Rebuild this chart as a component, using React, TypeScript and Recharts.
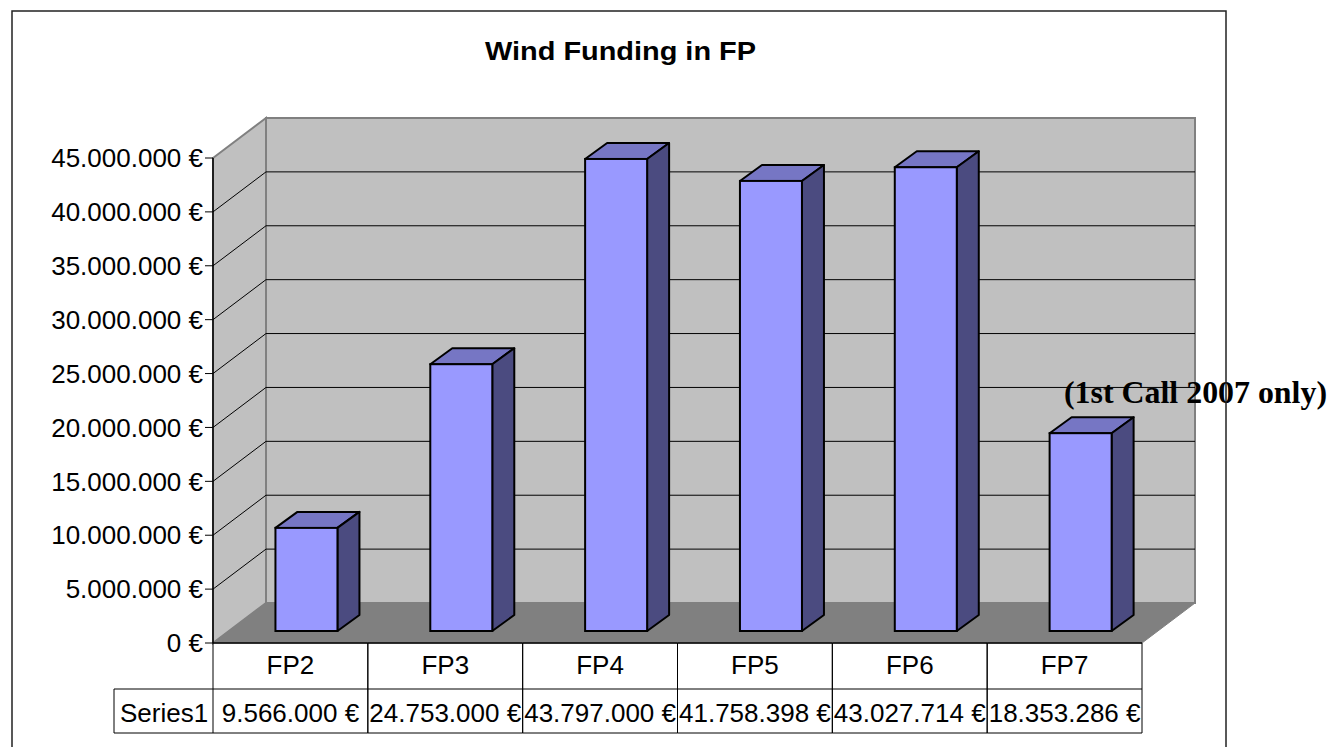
import React from 'react';
import { BarChart, Bar, XAxis, YAxis, CartesianGrid } from 'recharts';

const categories = ['FP2', 'FP3', 'FP4', 'FP5', 'FP6', 'FP7'];
const funding = [9566000, 24753000, 43797000, 41758398, 43027714, 18353286];
const yTicks = [0, 5000000, 10000000, 15000000, 20000000, 25000000, 30000000, 35000000, 40000000, 45000000];
const seriesName = 'Series1';
const chartTitle = 'Wind Funding in FP';
const noteText = '(1st Call 2007 only)';

const data = categories.map((c, i) => ({ cat: c, value: funding[i] }));

const fmt = (v: number) => String(Math.round(v)).replace(/\B(?=(\d{3})+(?!\d))/g, '.') + ' €';

const SANS = '"Liberation Sans", Arial, sans-serif';
const SERIF = '"Liberation Serif", "Times New Roman", serif';

// 3D depth of the walls
const DX = 53;
const DY = -40;
// bar placement within depth
const SX = 16;
const SY = -12;
const BDX = 22;
const BDY = -16;

const Box3D = (props: any) => {
  const { x, y, width, height } = props;
  if (x == null || width == null || height == null) return null;
  const fx = x + SX;
  const fy = y + SY;
  const pts = (arr: number[][]) => arr.map((p) => p.join(',')).join(' ');
  return (
    <g>
      <polygon
        points={pts([[fx, fy], [fx + BDX, fy + BDY], [fx + width + BDX, fy + BDY], [fx + width, fy]])}
        fill="#7676c4"
        stroke="#000"
        strokeWidth={2}
        strokeLinejoin="round"
      />
      <polygon
        points={pts([[fx + width, fy], [fx + width + BDX, fy + BDY], [fx + width + BDX, fy + height + BDY], [fx + width, fy + height]])}
        fill="#4b4b80"
        stroke="#000"
        strokeWidth={2}
        strokeLinejoin="round"
      />
      <rect x={fx} y={fy} width={width} height={height} fill="#9999ff" stroke="#000" strokeWidth={2} />
    </g>
  );
};

const WallLine = (p: any) => {
  const { x1, y1, x2, index, y, height } = p;
  const left = x1;
  const right = x2;
  const top = y;
  const bottom = y + height;
  const isBottom = Math.abs(y1 - bottom) < 0.5;
  const isTop = Math.abs(y1 - top) < 0.5;
  return (
    <g>
      {index === 0 && (
        <g>
          <rect x={left + DX} y={top + DY} width={right - left} height={bottom - top} fill="#c0c0c0" stroke="#808080" strokeWidth={2} />
          <polygon
            points={`${left},${top} ${left + DX},${top + DY} ${left + DX},${bottom + DY} ${left},${bottom}`}
            fill="#c0c0c0"
            stroke="#808080"
            strokeWidth={2}
          />
          <polygon
            points={`${left},${bottom} ${left + DX},${bottom + DY} ${right + DX},${bottom + DY} ${right},${bottom}`}
            fill="#808080"
            stroke="#808080"
            strokeWidth={1}
          />
        </g>
      )}
      {!isBottom && !isTop && (
        <g>
          <line x1={left} y1={y1} x2={left + DX} y2={y1 + DY} stroke="#000" strokeWidth={1} />
          <line x1={left + DX} y1={y1 + DY} x2={right + DX} y2={y1 + DY} stroke="#000" strokeWidth={1} />
        </g>
      )}
    </g>
  );
};

const TableTick = (p: any) => {
  const { x, y, index, width, visibleTicksCount, payload } = p;
  const band = width && visibleTicksCount ? width / visibleTicksCount : (payload?.offset || 0) * 2;
  const l = x - band / 2;
  const r = x + band / 2;
  const top = y;
  const mid = top + 46;
  const bot = top + 90;
  const ln = { stroke: '#000', strokeWidth: 1 };
  return (
    <g>
      <line x1={l} y1={top} x2={r} y2={top} stroke="#000" strokeWidth={1.5} />
      <line x1={l} y1={top} x2={l} y2={bot} {...ln} />
      <line x1={r} y1={top} x2={r} y2={bot} {...ln} />
      <line x1={l} y1={mid} x2={r} y2={mid} {...ln} />
      <line x1={l} y1={bot} x2={r} y2={bot} {...ln} />
      <text x={x} y={top + 31} textAnchor="middle" fontSize={26} fontFamily={SANS} fill="#000">
        {payload.value}
      </text>
      <text x={x} y={top + 79} textAnchor="middle" fontSize={26} fontFamily={SANS} fill="#000">
        {fmt(funding[index])}
      </text>
      {index === 0 && (
        <g>
          <line x1={l - 99} y1={mid} x2={l} y2={mid} {...ln} />
          <line x1={l - 99} y1={bot} x2={l} y2={bot} {...ln} />
          <line x1={l - 99} y1={mid} x2={l - 99} y2={bot} {...ln} />
          <text x={l - 93} y={top + 79} fontSize={26} fontFamily={SANS} fill="#000">
            {seriesName}
          </text>
        </g>
      )}
    </g>
  );
};

export default function App() {
  return (
    <div style={{ position: 'absolute', left: 0, top: 0, width: 1328, height: 747, background: '#fff' }}>
      <div style={{ position: 'absolute', left: 0, top: 0 }}>
        <BarChart
          width={1328}
          height={747}
          data={data}
          margin={{ top: 158, right: 186, bottom: 14, left: 0 }}
          barCategoryGap="30%"
        >
          <CartesianGrid vertical={false} horizontal={WallLine} syncWithTicks />
          <XAxis
            dataKey="cat"
            height={90}
            axisLine={false}
            tickLine={false}
            tickSize={0}
            tickMargin={0}
            interval={0}
            tick={TableTick}
          />
          <YAxis
            type="number"
            domain={[0, 45000000]}
            ticks={yTicks}
            interval={0}
            width={213}
            tickFormatter={fmt}
            axisLine={{ stroke: '#000', strokeWidth: 1.5 }}
            tickLine={{ stroke: '#000', strokeWidth: 1 }}
            tickSize={8}
            tickMargin={2}
            tick={{ fill: '#000', fontSize: 26, fontFamily: SANS }}
          />
          <Bar dataKey="value" isAnimationActive={false} shape={Box3D} />
        </BarChart>
      </div>
      <svg
        width={1328}
        height={747}
        style={{ position: 'absolute', left: 0, top: 0, pointerEvents: 'none' }}
      >
        <text
          x={620.5}
          y={60}
          textAnchor="middle"
          fontSize={25}
          fontWeight="bold"
          fontFamily={SANS}
          textLength={271}
          lengthAdjust="spacingAndGlyphs"
          fill="#000"
        >
          {chartTitle}
        </text>
        <text
          x={1064}
          y={403}
          fontSize={31}
          fontWeight="bold"
          fontFamily={SERIF}
          textLength={263}
          lengthAdjust="spacingAndGlyphs"
          fill="#000"
        >
          {noteText}
        </text>
        <rect x={12} y={11} width={1214} height={760} fill="none" stroke="#222" strokeWidth={1.5} />
      </svg>
    </div>
  );
}
